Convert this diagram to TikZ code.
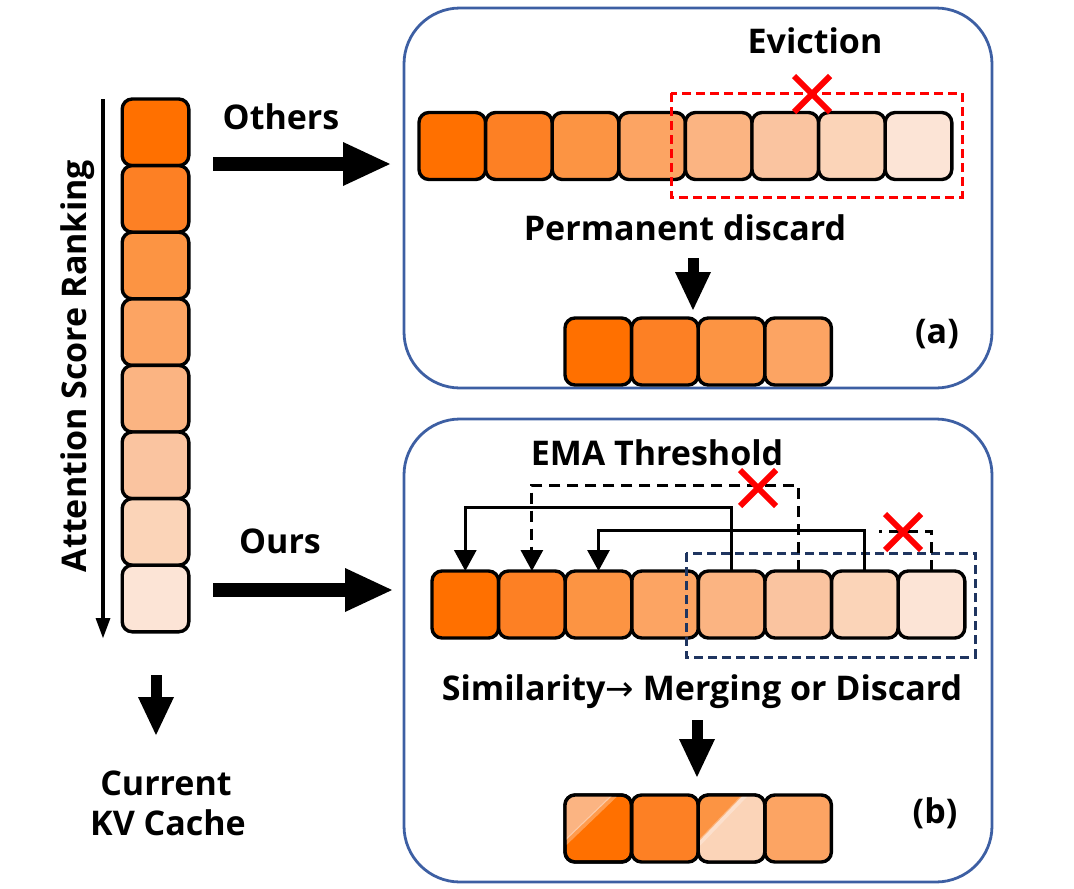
\documentclass[tikz,border=0pt]{standalone}
\usepackage{fontspec}
\setmainfont{Open Sans}
\newfontfamily\djv{DejaVu Sans}
\usetikzlibrary{arrows.meta,calc}
\definecolor{k1}{HTML}{FF7000}
\definecolor{k2}{HTML}{FD8024}
\definecolor{k3}{HTML}{FC9443}
\definecolor{k4}{HTML}{FCA463}
\definecolor{k5}{HTML}{FBB482}
\definecolor{k6}{HTML}{FAC4A0}
\definecolor{k7}{HTML}{FBD4B8}
\definecolor{k8}{HTML}{FCE4D6}
\definecolor{panelblue}{HTML}{3D5FA3}
\definecolor{navy}{HTML}{1F3560}
\definecolor{xred}{HTML}{FF0000}
\begin{document}
\begin{tikzpicture}[x=1pt,y=-1pt,
  cell/.style={draw=black, line width=3.4pt, rounded corners=10pt, minimum width=66.6pt, minimum height=67pt, inner sep=0pt, outer sep=0pt},
  lbl/.style={font=\fontsize{34}{40}\selectfont\bfseries, inner sep=0pt},
  panel/.style={draw=panelblue, line width=2.8pt, rounded corners=56pt},
  conn/.style={line width=3pt, -{Triangle[width=22pt,length=21pt]}},
  dashconn/.style={line width=3pt, dash pattern=on 11pt off 7pt},
  bigarrow/.style={line width=14pt, -{Triangle[width=44pt,length=47pt,line width=0pt]}},
  downarrow/.style={line width=11pt, -{Triangle[width=36pt,length=38pt,line width=0pt]}},
  redx/.style={xred, line width=6pt},
  evict/.style={xred, line width=3pt, dash pattern=on 9pt off 5pt},
  simbox/.style={navy, line width=3pt, dash pattern=on 9pt off 5pt}]
\useasboundingbox (0,0) rectangle (1074,889);

% panels
\draw[panel] (404,8) rectangle (992,388);
\draw[panel] (404,419) rectangle (992,882);

% left column
\foreach \i/\c in {1/k1,2/k2,3/k3,4/k4,5/k5,6/k6,7/k7,8/k8}
  \node[cell, fill=\c, minimum height=66.6pt] (l\i) at (155.5,{99+33.3+66.6*(\i-1)}) {};
\coordinate (rk0) at (103,99);
\coordinate (rk1) at (103,638);
\draw[line width=4.5pt, -{Triangle[width=15pt,length=20pt,line width=0pt]}] (rk0) -- (rk1);
\node[lbl, rotate=90, anchor=base] (rank) at (86,366) {Attention Score Ranking};

\coordinate (cd0) at (156,675);
\coordinate (cd1) at (156,735);
\draw[downarrow] (cd0) -- (cd1);
\node[lbl, anchor=base] (cur) at (166,795) {Current};
\node[lbl, anchor=base] (kv) at (168,835) {KV Cache};

% Others
\node[lbl, anchor=base] (others) at (281,129) {Others};
\coordinate (oa) at (213,164);
\coordinate (ob) at (390,164);
\draw[bigarrow] (oa) -- (ob);

% Ours
\node[lbl, anchor=base] (ours) at (280,553) {Ours};
\coordinate (ua) at (213,590);
\coordinate (ub) at (392,590);
\draw[bigarrow] (ua) -- (ub);

% panel (a)
\foreach \i/\c in {1/k1,2/k2,3/k3,4/k4,5/k5,6/k6,7/k7,8/k8}
  \node[cell, fill=\c] (a\i) at ({419+33.3+66.6*(\i-1)},146) {};
\draw[evict] (671,93) rectangle (962,197);
\draw[redx] (794,76) -- (830,112);
\draw[redx] (830,76) -- (794,112);
\node[lbl, anchor=base] (evic) at (815,53) {Eviction};
\node[lbl, anchor=base] (perm) at (685,240) {Permanent discard};
\coordinate (pa0) at (693,258);
\coordinate (pa1) at (693,310);
\draw[downarrow] (pa0) -- (pa1);
\foreach \i/\c in {1/k1,2/k2,3/k3,4/k4}
  \node[cell, fill=\c] (ra\i) at ({565+33.3+66.6*(\i-1)},351.5) {};
\node[lbl, anchor=base] (la) at (937,343) {(a)};

% panel (b)
\node[lbl, anchor=base] (ema) at (657,465) {EMA Threshold};
\foreach \i/\c in {1/k1,2/k2,3/k3,4/k4,5/k5,6/k6,7/k7,8/k8}
  \node[cell, fill=\c] (b\i) at ({432+33.3+66.6*(\i-1)},604.5) {};
\draw[simbox] (686,553) rectangle (975,657);

\draw[conn] (b5.north) -- ++(0,-64) -| (b1.north);
\draw[dashconn] (b6.north) -- ++(0,-86) -| ($(b2.north)+(0,-21)$);
\draw[line width=3pt, -{Triangle[width=22pt,length=21pt]}] ($(b2.north)+(0,-22)$) -- (b2.north);
\draw[conn] (b7.north) -- ++(0,-41) -| (b3.north);
\draw[dashconn] (b8.north) -- ++(0,-40) -- ++(-53,0);

\draw[redx] (740,470) -- (776,506);
\draw[redx] (776,470) -- (740,506);
\draw[redx] (885,514) -- (921,550);
\draw[redx] (921,514) -- (885,550);

\node[lbl, anchor=base] (sim) at (702,700) {Similarity{\djv\mdseries→} Merging or Discard};
\coordinate (pb0) at (697,720);
\coordinate (pb1) at (697,777);
\draw[downarrow] (pb0) -- (pb1);

\foreach \i/\c in {1/k1,2/k2,3/k3,4/k4}
  \node[cell, fill=\c] (rb\i) at ({565+33.3+66.6*(\i-1)},828.5) {};
% merged cells
\begin{scope}
  \clip[rounded corners=10pt] (rb1.south west) rectangle (rb1.north east);
  \fill[k5] (rb1.north west) -- ++(48,0) -- ++(-48,46) -- cycle;
  \draw[white, opacity=0.3, line width=5pt] ($(rb1.north west)+(50,0)$) -- ++(-50,48);
\end{scope}
\draw[line width=3.4pt, rounded corners=10pt] (rb1.south west) rectangle (rb1.north east);
\begin{scope}
  \clip[rounded corners=10pt] (rb3.south west) rectangle (rb3.north east);
  \fill[k7] (rb3.north west) rectangle (rb3.south east);
  \fill[k3] (rb3.north west) -- ++(45,0) -- ++(-45,47) -- cycle;
  \draw[white, opacity=0.3, line width=5pt] ($(rb3.north west)+(47,0)$) -- ++(-47,49);
\end{scope}
\draw[line width=3.4pt, rounded corners=10pt] (rb3.south west) rectangle (rb3.north east);
\node[lbl, anchor=base] (lb) at (935,823) {(b)};
\end{tikzpicture}
\end{document}
